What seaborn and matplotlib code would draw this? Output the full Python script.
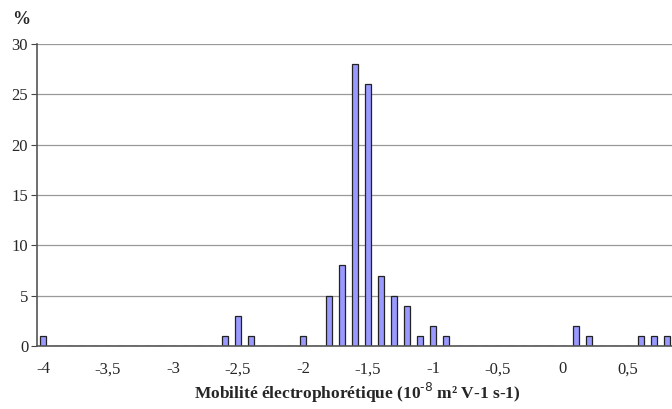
"""histogramme de mobilité électrophorétique"""

import seaborn as sns
import matplotlib.pyplot as plt
import pandas as pd
import numpy as np

# classes de mobilité (10^-8 m² V-1 s-1), pas de 0,1
mobility = [round(-4.0 + 0.1 * i, 1) for i in range(49)]
percent = [
    1, 0, 0, 0, 0, 0, 0, 0, 0, 0, 0, 0, 0, 0,   # -4.0 .. -2.7
    1, 3, 1, 0, 0, 0, 1, 0,                     # -2.6 .. -1.9
    5, 8, 28, 26, 7, 5, 4, 1, 2, 1,             # -1.8 .. -0.9
    0, 0, 0, 0, 0, 0, 0, 0, 0,                  # -0.8 .. 0.0
    2, 1, 0, 0, 0, 1, 1, 1,                     # 0.1 .. 0.8
]
tick_labels = ["-4", "-3,5", "-3", "-2,5", "-2", "-1,5", "-1", "-0,5", "0", "0,5"]

df = pd.DataFrame({"mob": [f"{m:.1f}" for m in mobility], "pct": percent})

sns.set_style("white")
plt.rcParams["font.family"] = ["Liberation Serif", "DejaVu Serif"]

fig = plt.figure(figsize=(6.72, 4.09), dpi=100)
ax = fig.add_axes([36.5 / 672, (409 - 346) / 409, 637 / 672, 302 / 409])

sns.barplot(
    data=df, x="mob", y="pct", order=df["mob"], ax=ax,
    color="#9999ff", saturation=1, width=0.45,
    edgecolor="#222222", linewidth=0.9,
)

ax.set_xlim(-0.5, len(mobility) - 0.5)
ax.set_ylim(0, 30)
ax.set_yticks(np.arange(0, 31, 5))
ax.yaxis.grid(True, color="#999999", linewidth=0.9)
ax.set_axisbelow(True)

ax.set_xticks(np.arange(0, len(mobility), 5))
ax.set_xticklabels(tick_labels)
ax.set_xticks(np.arange(-0.5, len(mobility), 1), minor=True)
ax.tick_params(axis="x", which="major", length=0, pad=11, labelsize=12)
ax.tick_params(axis="x", which="minor", length=4, width=0.8, color="#444444", direction="out")
ax.tick_params(axis="y", length=4, width=0.8, color="#444444", direction="out", pad=2, labelsize=12)
ax.tick_params(axis="both", bottom=True, left=True)

for side in ["top", "right"]:
    ax.spines[side].set_visible(False)
for side in ["left", "bottom"]:
    ax.spines[side].set_color("#555555")
    ax.spines[side].set_linewidth(1.2)

ax.set_ylabel("")
ax.set_xlabel("Mobilité électrophorétique (10$^{\\mathbf{\\text{-8}}}$ m² V-1 s-1)",
              fontweight="bold", fontsize=12.5, va="center")
ax.xaxis.set_label_coords((357 - 36.5) / 637, -(393 - 346) / 302)
fig.text(12 / 672, 1 - 19 / 409, "%", fontweight="bold", fontsize=13, va="center")

fig.savefig("out.png", dpi=100)
